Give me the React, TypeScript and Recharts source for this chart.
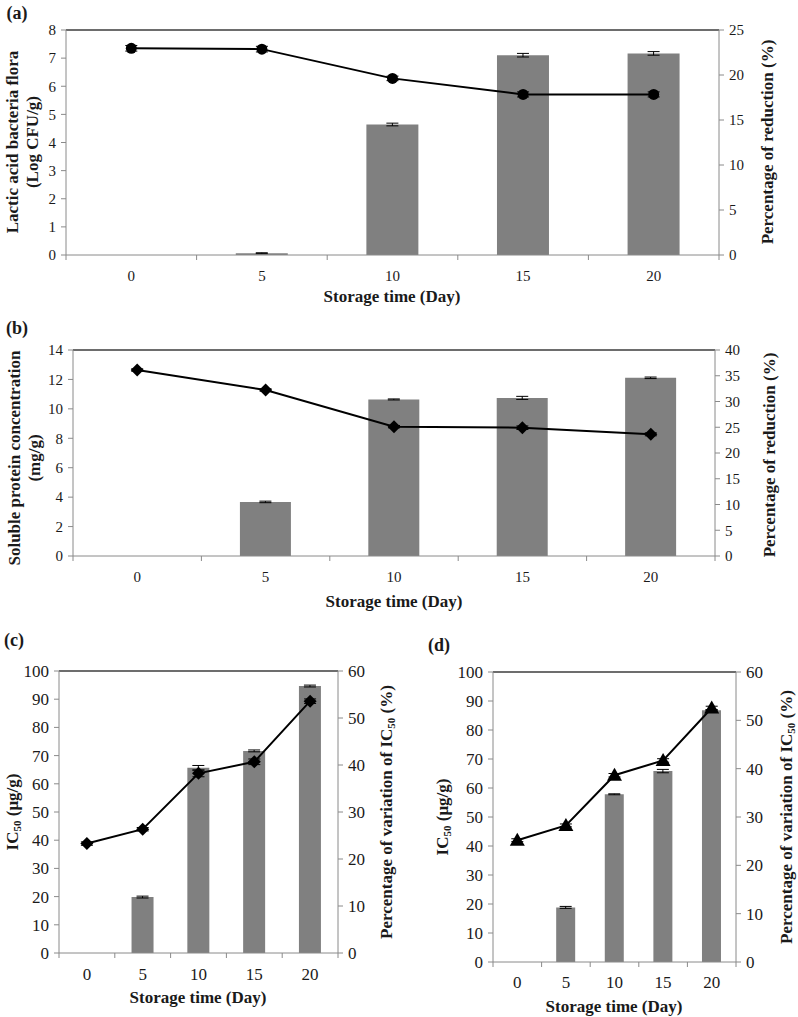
import React from 'react';
import { ComposedChart, Bar, Line, XAxis, YAxis, ErrorBar, ReferenceLine } from 'recharts';

const SERIF = "'Liberation Serif', 'Times New Roman', serif";
const AXIS = '#8a8a8a';
const BAR = '#808080';

const days = ['0', '5', '10', '15', '20'];

// (a) lactic acid bacteria flora (line, left) and % reduction (bars, right)
const labLog = [7.35, 7.32, 6.28, 5.71, 5.71];
const labLogErr = [0.1, 0.1, 0.08, 0.09, 0.09];
const labReduction = [null, 0.2, 14.5, 22.2, 22.4];
const labReductionErr = [null, 0.05, 0.15, 0.2, 0.2];

// (b) soluble protein (line, left) and % reduction (bars, right)
const protein = [12.64, 11.28, 8.79, 8.72, 8.27];
const proteinErr = [0.08, 0.08, 0.08, 0.12, 0.1];
const proteinReduction = [null, 10.5, 30.4, 30.7, 34.6];
const proteinReductionErr = [null, 0.15, 0.1, 0.3, 0.15];

// (c) IC50 (line, left) and % variation (bars, right)
const ic50C = [38.8, 43.9, 63.7, 67.8, 89.3];
const ic50CErr = [0.6, 0.6, 1.2, 1.0, 0.8];
const variationC = [null, 11.9, 39.4, 43.0, 56.8];
const variationCErr = [null, 0.2, 0.5, 0.2, 0.2];

// (d) IC50 (line, left) and % variation (bars, right)
const ic50D = [42.0, 47.1, 64.4, 69.5, 87.6];
const ic50DErr = [0.5, 0.5, 0.6, 0.6, 0.6];
const variationD = [null, 11.3, 34.7, 39.5, 52.1];
const variationDErr = [null, 0.2, 0.1, 0.35, 0.1];

const ticks = (max: number, step: number) => {
  const out: number[] = [];
  for (let v = 0; v <= max; v += step) out.push(v);
  return out;
};

const rows = (bar: (number | null)[], barErr: (number | null)[], line: number[], lineErr: number[]) =>
  days.map((day, i) => ({ day, bar: bar[i], barErr: barErr[i], line: line[i], lineErr: lineErr[i] }));

type Marker = 'circle' | 'diamond' | 'triangle';

function Dot({ cx, cy, shape }: { cx: number; cy: number; shape: Marker }) {
  if (cx == null || cy == null) return null;
  if (shape === 'circle') return <circle cx={cx} cy={cy} r={5.5} fill="#000" />;
  if (shape === 'diamond') {
    const s = 6.5;
    return <polygon points={`${cx},${cy - s} ${cx + s},${cy} ${cx},${cy + s} ${cx - s},${cy}`} fill="#000" />;
  }
  const s = 7.5;
  return <polygon points={`${cx},${cy - s} ${cx + s},${cy + s * 0.75} ${cx - s},${cy + s * 0.75}`} fill="#000" />;
}

function makeXTick(band: number, font: number, dy: number) {
  return (props: any) => {
    const { x, y, payload, index } = props;
    const axisY = y - 5;
    return (
      <g>
        <line x1={x - band / 2} x2={x - band / 2} y1={axisY} y2={axisY + 5} stroke={AXIS} />
        {index === days.length - 1 && (
          <line x1={x + band / 2} x2={x + band / 2} y1={axisY} y2={axisY + 5} stroke={AXIS} />
        )}
        <text x={x} y={axisY + dy} textAnchor="middle" fontSize={font} fill="#1a1a1a" fontFamily={SERIF}>
          {payload.value}
        </text>
      </g>
    );
  };
}

type PanelProps = {
  data: any[];
  width: number;
  height: number;
  top: number;
  leftW: number;
  rightW: number;
  xH: number;
  leftMax: number;
  leftStep: number;
  rightMax: number;
  rightStep: number;
  marker: Marker;
  font: number;
  dy: number;
};

function Panel(p: PanelProps) {
  const band = (p.width - p.leftW - p.rightW) / days.length;
  const tickStyle = { fontSize: p.font, fill: '#1a1a1a', fontFamily: SERIF };
  return (
    <ComposedChart
      width={p.width}
      height={p.height}
      data={p.data}
      margin={{ top: p.top, right: 0, left: 0, bottom: 0 }}
      barCategoryGap="30%"
    >
      <XAxis
        dataKey="day"
        height={p.xH}
        interval={0}
        stroke={AXIS}
        tickLine={false}
        tickSize={5}
        tickMargin={0}
        tick={makeXTick(band, p.font, p.dy)}
      />
      <YAxis
        yAxisId="left"
        width={p.leftW}
        domain={[0, p.leftMax]}
        ticks={ticks(p.leftMax, p.leftStep)}
        stroke={AXIS}
        tickSize={5}
        tickMargin={5}
        tick={tickStyle}
        interval={0}
      />
      <YAxis
        yAxisId="right"
        orientation="right"
        width={p.rightW}
        domain={[0, p.rightMax]}
        ticks={ticks(p.rightMax, p.rightStep)}
        stroke={AXIS}
        tickSize={5}
        tickMargin={5}
        tick={tickStyle}
        interval={0}
      />
      <ReferenceLine yAxisId="left" y={p.leftMax} stroke="#3c3c3c" strokeWidth={1.5} />
      <Bar yAxisId="right" dataKey="bar" fill={BAR} isAnimationActive={false}>
        <ErrorBar dataKey="barErr" width={6} stroke="#000" strokeWidth={1} />
      </Bar>
      <Line
        yAxisId="left"
        dataKey="line"
        stroke="#000"
        strokeWidth={2}
        isAnimationActive={false}
        dot={(d: any) => <Dot key={d.index} cx={d.cx} cy={d.cy} shape={p.marker} />}
        activeDot={false}
      >
        <ErrorBar dataKey="lineErr" width={6} stroke="#000" strokeWidth={1} />
      </Line>
    </ComposedChart>
  );
}

const txt: React.CSSProperties = {
  position: 'absolute',
  fontFamily: SERIF,
  fontWeight: 'bold',
  fontSize: 17,
  color: '#1a1a1a',
  whiteSpace: 'nowrap',
  lineHeight: '20px',
};

function Centered({ x, y, children, rotate = false, size = 17 }: { x: number; y: number; children: React.ReactNode; rotate?: boolean; size?: number }) {
  return (
    <div
      style={{
        ...txt,
        fontSize: size,
        left: x,
        top: y,
        textAlign: 'center',
        transform: `translate(-50%, -50%)${rotate ? ' rotate(-90deg)' : ''}`,
      }}
    >
      {children}
    </div>
  );
}

const IC50 = (
  <>
    IC<span style={{ fontSize: '0.65em', position: 'relative', top: '0.3em' }}>50</span>
  </>
);

export default function App() {
  return (
    <div style={{ position: 'absolute', left: 0, top: 0, width: 798, height: 1017, background: '#fff', overflow: 'hidden' }}>
      {/* (a) */}
      <div style={{ position: 'absolute', left: 0, top: 0 }}>
        <Panel
          data={rows(labReduction, labReductionErr, labLog, labLogErr)}
          width={798} height={310} top={30} leftW={66} rightW={79} xH={55}
          leftMax={8} leftStep={1} rightMax={25} rightStep={5}
          marker="circle" font={15} dy={26}
        />
      </div>
      <Centered x={17} y={13} size={18}>(a)</Centered>
      <Centered x={23} y={142} rotate>Lactic acid bacteria flora<br />(Log CFU/g)</Centered>
      <Centered x={768} y={142} rotate>Percentage of reduction (%)</Centered>
      <Centered x={392} y={297}>Storage time (Day)</Centered>

      {/* (b) */}
      <div style={{ position: 'absolute', left: 0, top: 320 }}>
        <Panel
          data={rows(proteinReduction, proteinReductionErr, protein, proteinErr)}
          width={798} height={290} top={30} leftW={73} rightW={83} xH={54}
          leftMax={14} leftStep={2} rightMax={40} rightStep={5}
          marker="diamond" font={15} dy={26}
        />
      </div>
      <Centered x={17} y={328} size={18}>(b)</Centered>
      <Centered x={25} y={458} rotate>Soluble protein concentration<br />(mg/g)</Centered>
      <Centered x={770} y={455} rotate>Percentage of reduction (%)</Centered>
      <Centered x={394} y={602}>Storage time (Day)</Centered>

      {/* (c) */}
      <div style={{ position: 'absolute', left: 0, top: 640 }}>
        <Panel
          data={rows(variationC, variationCErr, ic50C, ic50CErr)}
          width={400} height={377} top={31} leftW={59} rightW={62} xH={64}
          leftMax={100} leftStep={10} rightMax={60} rightStep={10}
          marker="diamond" font={17} dy={27}
        />
      </div>
      <Centered x={14} y={640} size={18}>(c)</Centered>
      <Centered x={13} y={812} rotate>{IC50} (μg/g)</Centered>
      <Centered x={387} y={812} rotate>Percentage of variation of {IC50} (%)</Centered>
      <Centered x={198} y={998}>Storage time (Day)</Centered>

      {/* (d) */}
      <div style={{ position: 'absolute', left: 400, top: 640 }}>
        <Panel
          data={rows(variationD, variationDErr, ic50D, ic50DErr)}
          width={398} height={377} top={32} leftW={93} rightW={62} xH={55}
          leftMax={100} leftStep={10} rightMax={60} rightStep={10}
          marker="triangle" font={17} dy={26}
        />
      </div>
      <Centered x={439} y={645} size={18}>(d)</Centered>
      <Centered x={443} y={817} rotate>{IC50} (μg/g)</Centered>
      <Centered x={787} y={817} rotate>Percentage of variation of {IC50} (%)</Centered>
      <Centered x={614} y={1007}>Storage time (Day)</Centered>
    </div>
  );
}
